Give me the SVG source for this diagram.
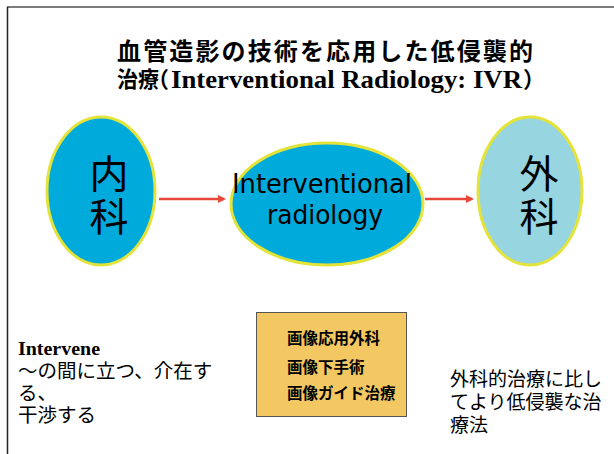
<svg xmlns="http://www.w3.org/2000/svg" width="614" height="454" viewBox="0 0 614 454">
<style>
.jp{font-family:"Noto Sans CJK JP","DejaVu Sans",sans-serif;fill:#000}
.serif{font-family:"Liberation Serif","Noto Serif CJK JP","Noto Sans CJK JP",serif;font-weight:bold;fill:#000}
.sans{font-family:"DejaVu Sans","Noto Sans CJK JP",sans-serif;fill:#000}
.node{stroke:#E3E33A;stroke-width:3}
.conn{stroke:#E8483A;stroke-width:2.5;fill:none}
</style>
<defs>
<marker id="ah" markerWidth="8" markerHeight="8" refX="6" refY="4" orient="auto" markerUnits="userSpaceOnUse">
<path d="M0,0 L8,4 L0,8 z" fill="#E8483A"/>
</marker>
</defs>
<rect x="0" y="0" width="614" height="454" fill="#fff"/>
<line x1="7" y1="7" x2="614" y2="7" stroke="#7a7a7a" stroke-width="2"/>
<line x1="7.5" y1="7" x2="7.5" y2="454" stroke="#222" stroke-width="1.5"/>

<g id="title">
<text class="jp" x="117" y="60" font-size="24" font-weight="bold" textLength="416" lengthAdjust="spacing">血管造影の技術を応用した低侵襲的</text>
<text class="jp" y="87" font-size="22" font-weight="bold"><tspan x="117" textLength="42" lengthAdjust="spacingAndGlyphs">治療</tspan><tspan x="147">（</tspan><tspan class="serif" x="171" y="88" font-size="26" textLength="351" lengthAdjust="spacingAndGlyphs">Interventional Radiology: IVR</tspan><tspan x="523" y="87">）</tspan></text>
</g>

<g id="connectors">
<line class="conn" x1="159" y1="199" x2="224" y2="199" marker-end="url(#ah)"/>
<line class="conn" x1="425" y1="199" x2="472" y2="199" marker-end="url(#ah)"/>
</g>

<g id="naika">
<ellipse class="node" cx="101" cy="191" rx="54" ry="74" fill="#00AADB"/>
<text class="jp" font-size="39" text-anchor="middle"><tspan x="109" y="188">内</tspan><tspan x="109" y="231">科</tspan></text>
</g>

<g id="ivr">
<ellipse class="node" cx="327" cy="204" rx="96" ry="61" fill="#00AADB"/>
<text class="sans" font-size="26" text-anchor="middle"><tspan x="322" y="193" textLength="180" lengthAdjust="spacingAndGlyphs">Interventional</tspan><tspan x="325" y="224" textLength="116" lengthAdjust="spacingAndGlyphs">radiology</tspan></text>
</g>

<g id="geka">
<ellipse class="node" cx="530" cy="191" rx="52" ry="74" fill="#97D5E0"/>
<text class="jp" font-size="39" text-anchor="middle"><tspan x="539" y="188">外</tspan><tspan x="539" y="231">科</tspan></text>
</g>

<g id="intervene">
<text class="jp" font-size="19.5"><tspan class="serif" x="18" y="355" font-size="18" textLength="82" lengthAdjust="spacingAndGlyphs">Intervene</tspan><tspan x="18" y="378">〜の間に立つ、介在す</tspan><tspan x="18" y="400">る、</tspan><tspan x="18" y="422">干渉する</tspan></text>
</g>

<g id="box">
<rect x="256.5" y="312.5" width="150" height="104" fill="#F3C862" stroke="#555" stroke-width="1"/>
<text class="jp" font-size="15.5" font-weight="bold"><tspan x="287" y="344">画像応用外科</tspan><tspan x="287" y="373">画像下手術</tspan><tspan x="287" y="399">画像ガイド治療</tspan></text>
</g>

<g id="note">
<text class="jp" font-size="19"><tspan x="450" y="386">外科的治療に比し</tspan><tspan x="450" y="409">てより低侵襲な治</tspan><tspan x="450" y="432">療法</tspan></text>
</g>
</svg>
